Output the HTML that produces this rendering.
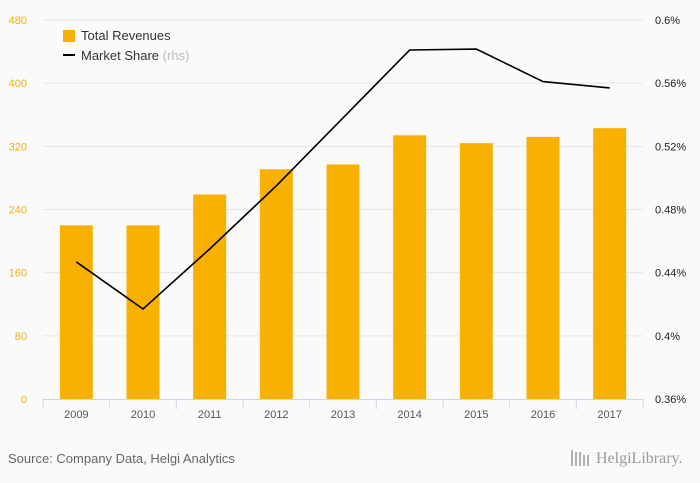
<!DOCTYPE html>
<html><head><meta charset="utf-8"><style>
body{margin:0;background:#fafafa;font-family:"Liberation Sans",sans-serif;}
svg{display:block}
</style></head><body>
<svg width="700" height="483">
<rect width="700" height="483" fill="#fafafa"/>
<g id="grid"></g><g id="bars"></g><g id="line"></g><g id="axes"></g>
<g>
<rect x="63" y="30" width="12" height="12" fill="#f8b100"/>
<text x="81" y="40" font-size="13" fill="#333">Total Revenues</text>
<rect x="63" y="54" width="12" height="2" fill="#000"/>
<text x="81" y="60" font-size="13" fill="#333">Market Share <tspan fill="#bbb">(rhs)</tspan></text>
</g>
<text x="8" y="463" font-size="13" fill="#666">Source: Company Data, Helgi Analytics</text>
<text x="596" y="463" font-size="16" fill="#999" font-family="Liberation Serif,serif">HelgiLibrary.</text>
<g stroke="#999" stroke-width="1.5"><line x1="572" y1="450" x2="572" y2="466"/><line x1="576" y1="452" x2="576" y2="466"/><line x1="580" y1="452" x2="580" y2="466"/><line x1="584" y1="455" x2="584" y2="466"/><line x1="588" y1="455" x2="588" y2="466"/></g>
</svg>
<script>
const years=["2009","2010","2011","2012","2013","2014","2015","2016","2017"];
const revenues=[220,220,259,291,297,334,324,332,343];
const share=[0.4468,0.417,0.455,0.495,0.538,0.581,0.5816,0.561,0.557];
const leftTicks=[0,80,160,240,320,400,480];
const rightTicks=[0.36,0.4,0.44,0.48,0.52,0.56,0.6];
const rightLabels=["0.36%","0.4%","0.44%","0.48%","0.52%","0.56%","0.6%"];
const NS="http://www.w3.org/2000/svg";
const x0=43,x1=643,yTop=20,yBot=399;
const band=(x1-x0)/years.length;
const xc=i=>x0+band*(i+0.5);
const yL=v=>yBot-(v/480)*(yBot-yTop);
const yR=v=>yBot-((v-0.36)/0.24)*(yBot-yTop);
function mk(tag,attrs,parent,txt){const e=document.createElementNS(NS,tag);for(const k in attrs)e.setAttribute(k,attrs[k]);if(txt!=null)e.textContent=txt;document.getElementById(parent).appendChild(e);return e;}
leftTicks.forEach((t,i)=>{
 if(t>0){const g=mk('line',{x1:x0,x2:x1,y1:yL(t),y2:yL(t),stroke:'#e6e6e6'},'grid');
 
 }
 const l=mk('text',{x:27,y:yL(t)+4,'font-size':11,fill:'#f8b100','text-anchor':'end'},'axes',String(t));
 
 
});
rightTicks.forEach((t,i)=>{
 const l=mk('text',{x:655,y:yR(t)+4,'font-size':11,fill:'#222'},'axes',rightLabels[i]);
 
 
});
revenues.forEach((v,i)=>{
 const b=mk('rect',{x:xc(i)-16.5,y:yL(v),width:33,height:yBot-yL(v),fill:'#f8b100'},'bars');
 
 
 const l=mk('text',{x:xc(i),y:418,'font-size':11,fill:'#555','text-anchor':'middle'},'axes',years[i]);
 
 
});
const ax=mk('line',{x1:x0,x2:x1,y1:yBot+0.5,y2:yBot+0.5,stroke:'#ccd6eb'},'axes');


for(let i=0;i<=years.length;i++){
 const t=mk('line',{x1:x0+band*i,x2:x0+band*i,y1:yBot,y2:yBot+10,stroke:'#ccd6eb'},'axes');
 
 
}
const p=mk('polyline',{points:share.map((v,i)=>xc(i)+','+yR(v)).join(' '),fill:'none',stroke:'#000','stroke-width':1.6},'line');


</script>
</body></html>
